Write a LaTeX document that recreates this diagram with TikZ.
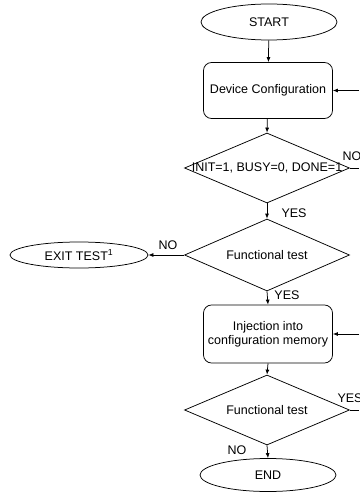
\documentclass[tikz,border=0pt]{standalone}
\usepackage{fontspec}
\setmainfont{Liberation Sans}
\usetikzlibrary{shapes.geometric,arrows.meta}
\begin{document}
\begin{tikzpicture}[x=1pt,y=-1pt,
  every node/.style={font=\fontsize{12.5}{14}\selectfont},
  term/.style={draw,ellipse,inner sep=0pt,minimum width=136pt,minimum height=36pt,line width=0.75pt},
  procbox/.style={draw,rounded corners=8pt,minimum width=129pt,minimum height=56pt,align=center,line width=0.75pt,inner sep=0pt},
  dia/.style={draw,diamond,inner sep=0pt,minimum width=165pt,minimum height=70pt,line width=0.75pt},
  conn/.style={line width=0.75pt,-{Latex[length=5pt,width=4pt]}},
  plain/.style={line width=0.75pt},
  lbl/.style={inner sep=0pt}]
\useasboundingbox (0,0) rectangle (359,494);
\node[term] (start) at (269,22) {START};
\node[procbox] (conf) at (268,90.5) {Device Configuration};
\node[dia] (d1) at (267,168) {};
\node[lbl] (d1t) at (d1) {INIT=1, BUSY=0, DONE=1};
\node[dia,minimum height=72pt] (d2) at (267,255) {};
\node[lbl] (d2t) at (d2) {Functional test};
\node[term,minimum width=138pt,minimum height=26pt] (exit) at (79,255) {EXIT TEST\textsuperscript{1}};
\node[procbox,minimum height=58pt] (inj) at (268,334) {Injection into\\configuration memory};
\node[dia] (d3) at (267,410) {};
\node[lbl] (d3t) at (d3) {Functional test};
\node[term,minimum height=33pt] (end) at (268,475) {END};

\coordinate (r1) at (359,90.5);
\coordinate (r2) at (359,168);
\coordinate (r3) at (359,334);
\coordinate (r4) at (359,410);

\draw[conn] (start) -- (conf);
\draw[conn] (conf) -- (d1.north);
\draw[plain] (d1.east) -- (r2);
\draw[conn] (r1) -- (conf.east);
\draw[conn] (d1.south) -- (d2.north);
\draw[conn] (d2.west) -- (exit.east);
\draw[conn] (d2.south) -- (inj.north);
\draw[conn] (r3) -- (inj.east);
\draw[conn] (inj.south) -- (d3.north);
\draw[plain] (d3.east) -- (r4);
\draw[conn] (d3.south) -- (end.north);

\node[lbl] (no1) at (352,156) {NO};
\node[lbl] (yes1) at (294,213) {YES};
\node[lbl] (no2) at (168,245) {NO};
\node[lbl] (yes2) at (287,295) {YES};
\node[lbl] (yes3) at (350,398) {YES};
\node[lbl] (no3) at (237,450) {NO};
\end{tikzpicture}
\end{document}
